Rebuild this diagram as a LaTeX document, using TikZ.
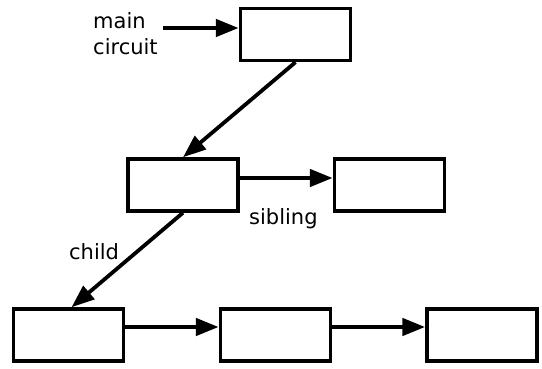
\documentclass[tikz,border=0pt]{standalone}
\usepackage{fontspec}
\setmainfont{DejaVu Sans}
\usetikzlibrary{arrows.meta}
\begin{document}
\begin{tikzpicture}[x=1pt,y=-1pt,
  cell/.style={draw, line width=3.4pt, minimum width=110pt, minimum height=52pt, inner sep=0pt},
  link/.style={line width=4.6pt, -{Triangle[length=23pt,width=17pt]}},
  slant/.style={line width=3.8pt, -{Triangle[length=23pt,width=17pt]}},
  lbl/.style={anchor=base west, inner sep=0pt, font=\fontsize{21}{25}\selectfont}]
  \useasboundingbox (0,0) rectangle (542,369);
  % circuit cells
  \node[cell] (top) at (295.5,34.5) {};
  \node[cell] (m1) at (183,185) {};
  \node[cell] (m2) at (389.5,185) {};
  \node[cell] (b1) at (68.5,335) {};
  \node[cell] (b2) at (275.5,335) {};
  \node[cell] (b3) at (482,335) {};
  % labels
  \node[lbl] (lmain) at (93,29) {main};
  \node[lbl] (lcirc) at (93,55) {circuit};
  \node[lbl] (lsib) at (249,225) {sibling};
  \node[lbl] (lchild) at (69,259) {child};
  % entry arrow
  \coordinate (entry) at (163,28);
  \draw[link] (entry) -- (entry -| top.west);
  % child pointers
  \draw[slant] (top.south) -- (m1.north);
  \draw[slant] (m1.south) -- ([xshift=3pt]b1.north);
  % sibling pointers
  \draw[link] ([yshift=7pt]m1.east) -- ([yshift=7pt]m2.west);
  \draw[link] ([yshift=8pt]b1.east) -- ([yshift=8pt]b2.west);
  \draw[link] ([yshift=8pt]b2.east) -- ([yshift=8pt]b3.west);
\end{tikzpicture}
\end{document}
